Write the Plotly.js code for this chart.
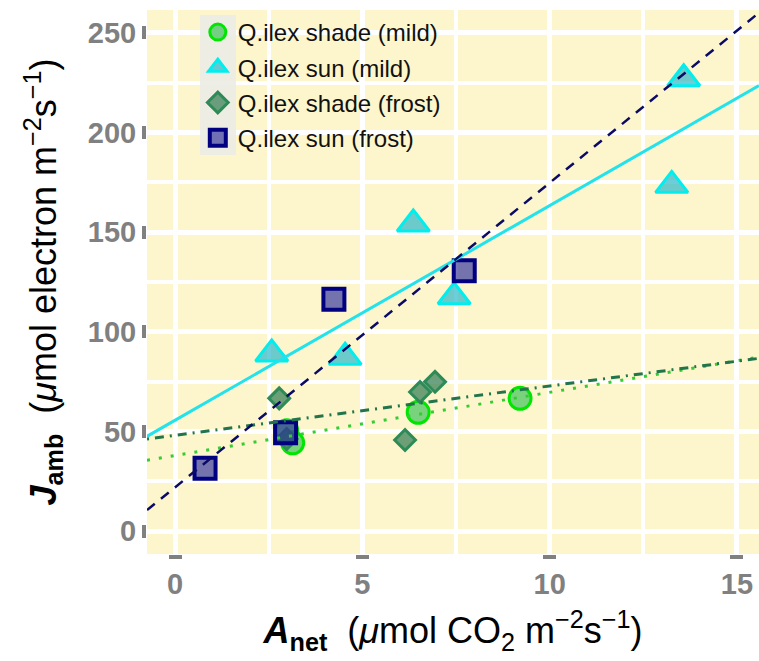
<!DOCTYPE html>
<html>
<head>
<meta charset="utf-8">
<script src="https://cdn.plot.ly/plotly-3.0.1.min.js"></script>
<style>html,body{margin:0;padding:0;background:#fff;}#chart{width:759px;height:661px;}</style>
</head>
<body>
<div id="chart"></div>
<script>
// ---- data ----
const seriesNames = ["Q.ilex shade (mild)", "Q.ilex sun (mild)", "Q.ilex shade (frost)", "Q.ilex sun (frost)"];

const shadeMildX = [2.98, 3.14, 6.49, 9.21];
const shadeMildY = [50.4, 44.3, 59.6, 66.6];

const sunMildX = [2.58, 4.54, 6.36, 7.45, 13.26, 13.58];
const sunMildY = [88.9, 87.2, 154.1, 117.6, 173.5, 227.0];

const shadeFrostX = [2.78, 2.98, 6.14, 6.54, 6.94];
const shadeFrostY = [66.6, 46.2, 45.7, 69.8, 74.9];

const sunFrostX = [0.80, 2.95, 4.24, 7.72];
const sunFrostY = [31.5, 49.4, 116.3, 130.7];

const xTicks = [0, 5, 10, 15];
const yTicks = [0, 50, 100, 150, 200, 250];
const xRange = [-0.75, 15.59];
const yRange = [-11.5, 261.5];

// ---- helpers ----
function linfit(x, y) {
  const n = x.length;
  const mx = x.reduce((a, b) => a + b, 0) / n;
  const my = y.reduce((a, b) => a + b, 0) / n;
  let sxy = 0, sxx = 0;
  for (let i = 0; i < n; i++) { sxy += (x[i] - mx) * (y[i] - my); sxx += (x[i] - mx) ** 2; }
  const b = sxy / sxx;
  return { b: b, a: my - b * mx };
}
function fitLine(x, y) {
  const f = linfit(x, y);
  return { x: xRange.slice(), y: xRange.map(v => f.a + f.b * v) };
}

const FONT = "Liberation Sans, Arial, sans-serif";

const pts = [
  { x: shadeMildX, y: shadeMildY, name: seriesNames[0],
    marker: { symbol: "circle", size: 22, color: "rgba(50,190,80,0.65)", line: { color: "#00E600", width: 3 } } },
  { x: sunMildX, y: sunMildY, name: seriesNames[1],
    marker: { symbol: "triangle-up", size: 28, color: "rgba(30,180,200,0.65)", line: { color: "#00EEEE", width: 3 } } },
  { x: shadeFrostX, y: shadeFrostY, name: seriesNames[2],
    marker: { symbol: "diamond", size: 16, color: "rgba(60,130,90,0.75)", line: { color: "#2E8B57", width: 3 } } },
  { x: sunFrostX, y: sunFrostY, name: seriesNames[3],
    marker: { symbol: "square", size: 21, color: "rgba(45,45,155,0.65)", line: { color: "#000080", width: 4 } } }
].map(t => Object.assign({ type: "scatter", mode: "markers", cliponaxis: false, legendgroup: t.name }, t));

const l1 = fitLine(shadeMildX, shadeMildY);
const l2 = fitLine(sunMildX, sunMildY);
const l3 = fitLine(shadeFrostX, shadeFrostY);
const l4 = fitLine(sunFrostX, sunFrostY);
const lines = [
  { x: l1.x, y: l1.y, line: { color: "#33CC33", width: 3, dash: "3px,9px" } },
  { x: l2.x, y: l2.y, line: { color: "#22E2EA", width: 3 } },
  { x: l3.x, y: l3.y, line: { color: "#22744A", width: 3, dash: "2px,6px,9px,6px" } },
  { x: l4.x, y: l4.y, line: { color: "#0B0B66", width: 2.5, dash: "10px,8px" } }
].map(t => Object.assign({ type: "scatter", mode: "lines", showlegend: false, hoverinfo: "skip" }, t));

const axisCommon = {
  showline: false, zeroline: false, showgrid: true, gridcolor: "#FFFFFF", gridwidth: 5,
  ticks: "outside", ticklen: 4, tickwidth: 13, tickcolor: "#808080",
  tickfont: { family: FONT, size: 29, color: "#808080", weight: "bold" }
};

const layout = {
  width: 759, height: 661,
  margin: { l: 147, r: 0, t: 10, b: 107 },
  paper_bgcolor: "#FFFFFF", plot_bgcolor: "#FDF6CD",
  font: { family: FONT, color: "#000000" },
  xaxis: Object.assign({}, axisCommon, {
    range: xRange, tickmode: "array", tickvals: xTicks,
    minor: { dtick: 2.5, showgrid: true, gridcolor: "#FFFFFF", gridwidth: 4 },
    title: { text: "<b><i>A</i></b><sub><b>net</b></sub>\u00a0\u00a0(<i>\u03bc</i>mol CO<sub>2</sub> m<sup>\u22122</sup>s<sup>\u22121</sup>)",
             font: { family: FONT, size: 36, color: "#000000" }, standoff: 19 }
  }),
  yaxis: Object.assign({}, axisCommon, {
    range: yRange, tickmode: "array", tickvals: yTicks,
    minor: { dtick: 25, showgrid: true, gridcolor: "#FFFFFF", gridwidth: 4 },
    title: { text: "<b><i>J</i></b><sub><b>amb</b></sub>\u00a0\u00a0(<i>\u03bc</i>mol electron m<sup>\u22122</sup>s<sup>\u22121</sup>)",
             font: { family: FONT, size: 36, color: "#000000" }, standoff: 20 }
  }),
  legend: {
    x: 0.083, y: 1.0, xanchor: "left", yanchor: "top",
    bgcolor: "rgba(0,0,0,0)", borderwidth: 0,
    font: { family: FONT, size: 24, color: "#111111" },
    tracegroupgap: 1
  },
  shapes: [
    { type: "rect", xref: "paper", yref: "paper", layer: "above",
      x0: 0.0866, x1: 0.1454, y0: 0.7335, y1: 0.9908,
      fillcolor: "#ECECE6", opacity: 0.9, line: { width: 0 } }
  ],
  showlegend: true
};

Plotly.newPlot("chart", pts.concat(lines), layout, { staticPlot: true, displayModeBar: false });
</script>
</body>
</html>
